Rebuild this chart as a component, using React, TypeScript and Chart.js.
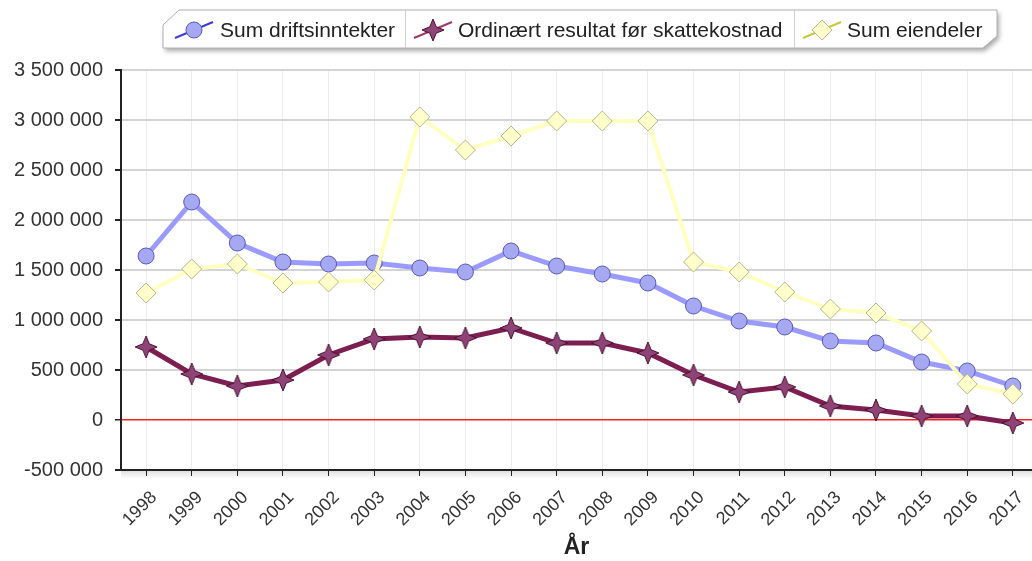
import React, { useEffect, useRef } from 'react';
import { Chart, registerables } from 'chart.js';

Chart.register(...registerables);

const years = [1998, 1999, 2000, 2001, 2002, 2003, 2004, 2005, 2006, 2007, 2008, 2009, 2010, 2011, 2012, 2013, 2014, 2015, 2016, 2017];
const sumDriftsinntekter = [1640000, 2180000, 1770000, 1580000, 1560000, 1570000, 1520000, 1480000, 1690000, 1540000, 1460000, 1370000, 1140000, 990000, 930000, 790000, 770000, 580000, 490000, 340000];
const ordinaertResultat = [730000, 460000, 340000, 400000, 650000, 810000, 830000, 820000, 920000, 770000, 770000, 670000, 450000, 280000, 330000, 140000, 100000, 40000, 40000, -30000];
const sumEiendeler = [1270000, 1510000, 1560000, 1370000, 1380000, 1400000, 3030000, 2700000, 2840000, 2990000, 2990000, 2990000, 1580000, 1480000, 1280000, 1110000, 1070000, 890000, 360000, 260000];
const seriesLabels = ['Sum driftsinntekter', 'Ordinært resultat før skattekostnad', 'Sum eiendeler'];
const xTitle = 'År';
const yMin = -500000;
const yMax = 3500000;
const yStep = 500000;

const FONT = "'Liberation Sans', Arial, sans-serif";

const fmt = (v: number) => (v < 0 ? '-' : '') + Math.abs(v).toString().replace(/\B(?=(\d{3})+(?!\d))/g, ' ');

function starPath(g: CanvasRenderingContext2D, cx: number, cy: number, R: number, r: number) {
  g.beginPath();
  for (let i = 0; i < 8; i++) {
    const a = -Math.PI / 2 + (i * Math.PI) / 4;
    const rad = i % 2 === 0 ? R : r;
    g.lineTo(cx + rad * Math.cos(a), cy + rad * Math.sin(a));
  }
  g.closePath();
}

function makeStar(): HTMLCanvasElement {
  const s = 26;
  const c = document.createElement('canvas');
  c.width = s;
  c.height = s;
  const g = c.getContext('2d')!;
  starPath(g, s / 2, s / 2, 11, 4.5);
  g.fillStyle = '#8f4477';
  g.fill();
  g.strokeStyle = '#4a1030';
  g.lineWidth = 1;
  g.stroke();
  return c;
}

const legendPlugin = {
  id: 'customLegend',
  beforeDraw(chart: any) {
    const { ctx, chartArea } = chart;
    ctx.save();
    const grd = ctx.createLinearGradient(0, chartArea.bottom + 1, 0, chartArea.bottom + 9);
    grd.addColorStop(0, 'rgba(0,0,0,0.12)');
    grd.addColorStop(1, 'rgba(0,0,0,0)');
    ctx.fillStyle = grd;
    ctx.fillRect(chartArea.left, chartArea.bottom + 1, chartArea.right - chartArea.left, 8);
    ctx.restore();
  },
  afterDraw(chart: any) {
    const ctx: CanvasRenderingContext2D = chart.ctx;
    ctx.save();
    const L = 163, T = 10, R = 997, B = 48;
    ctx.beginPath();
    ctx.moveTo(L + 16, T);
    ctx.lineTo(R, T);
    ctx.lineTo(R, B - 12);
    ctx.lineTo(R - 14, B);
    ctx.lineTo(L, B);
    ctx.lineTo(L, T + 15);
    ctx.closePath();
    ctx.shadowColor = 'rgba(0,0,0,0.35)';
    ctx.shadowBlur = 5;
    ctx.shadowOffsetX = 2;
    ctx.shadowOffsetY = 3;
    ctx.fillStyle = '#ffffff';
    ctx.fill();
    ctx.shadowColor = 'transparent';
    ctx.strokeStyle = '#b0b0b0';
    ctx.lineWidth = 1;
    ctx.stroke();

    ctx.strokeStyle = '#d0d0d0';
    [405, 794].forEach((x) => {
      ctx.beginPath();
      ctx.moveTo(x + 0.5, T);
      ctx.lineTo(x + 0.5, B);
      ctx.stroke();
    });

    const cy = 30;
    const markerX = [194, 433, 822];
    const textX = [220, 458, 847];
    const lineColors = ['#3b3bd6', '#9a3a6a', '#c8c83c'];
    markerX.forEach((mx, i) => {
      ctx.strokeStyle = lineColors[i];
      ctx.lineWidth = 2;
      ctx.beginPath();
      ctx.moveTo(mx - 19, cy + 8);
      ctx.lineTo(mx + 19, cy - 8);
      ctx.stroke();
      ctx.lineWidth = 1;
      if (i === 0) {
        ctx.beginPath();
        ctx.arc(mx, cy, 8, 0, Math.PI * 2);
        ctx.fillStyle = '#a6a8f2';
        ctx.fill();
        ctx.strokeStyle = '#5a5ab8';
        ctx.stroke();
      } else if (i === 1) {
        starPath(ctx, mx, cy, 11, 4.5);
        ctx.fillStyle = '#8f4477';
        ctx.fill();
        ctx.strokeStyle = '#4a1030';
        ctx.stroke();
      } else {
        ctx.beginPath();
        ctx.moveTo(mx, cy - 10);
        ctx.lineTo(mx + 10, cy);
        ctx.lineTo(mx, cy + 10);
        ctx.lineTo(mx - 10, cy);
        ctx.closePath();
        ctx.fillStyle = '#ffffcc';
        ctx.fill();
        ctx.strokeStyle = '#b5b58a';
        ctx.stroke();
      }
      ctx.fillStyle = '#222';
      ctx.font = `21px ${FONT}`;
      ctx.textBaseline = 'middle';
      ctx.textAlign = 'left';
      ctx.fillText(seriesLabels[i], textX[i], cy + 1);
    });
    ctx.restore();
  },
};

export default function App() {
  const ref = useRef<HTMLCanvasElement>(null);
  useEffect(() => {
    document.body.style.margin = '0';
    const star = makeStar();
    const toPts = (arr: number[]) => years.map((y, i) => ({ x: y, y: arr[i] }));
    const chart = new Chart(ref.current!, {
      type: 'line',
      data: {
        datasets: [
          {
            label: seriesLabels[0],
            data: toPts(sumDriftsinntekter),
            borderColor: '#9b9bff',
            borderWidth: 5,
            pointStyle: 'circle',
            pointRadius: 8,
            pointBackgroundColor: '#a6a8f2',
            pointBorderColor: '#5a5ab8',
            pointBorderWidth: 1,
            tension: 0,
            order: 2,
          },
          {
            label: seriesLabels[1],
            data: toPts(ordinaertResultat),
            borderColor: '#7d1e50',
            borderWidth: 5,
            pointStyle: star as any,
            pointRadius: 11,
            tension: 0,
            order: 1,
          },
          {
            label: seriesLabels[2],
            data: toPts(sumEiendeler),
            borderColor: '#ffffc0',
            borderWidth: 4,
            pointStyle: 'rectRot',
            pointRadius: 10,
            pointBackgroundColor: '#ffffcc',
            pointBorderColor: '#b5b58a',
            pointBorderWidth: 1,
            tension: 0,
            order: 0,
          },
        ],
      },
      options: {
        responsive: false,
        animation: false,
        clip: false,
        layout: { autoPadding: false, padding: { top: 70, left: 0, right: 0, bottom: 0 } },
        plugins: { legend: { display: false }, tooltip: { enabled: false } },
        scales: {
          x: {
            type: 'linear',
            min: 1997.45,
            max: 2017.42,
            afterFit: (s: any) => { s.height = 91; s.paddingLeft = 0; s.paddingRight = 0; },
            grid: { color: '#ececec', lineWidth: 1, tickColor: '#222', tickLength: 6 },
            border: { color: '#222', width: 2 },
            ticks: {
              stepSize: 1,
              includeBounds: false,
              autoSkip: false,
              minRotation: 45,
              maxRotation: 45,
              padding: 11,
              labelOffset: 8,
              color: '#333',
              font: { family: FONT, size: 18 },
              callback: (v: any) => String(v),
            },
            title: {
              display: true,
              text: xTitle,
              color: '#222',
              font: { family: FONT, size: 23, weight: 'bold' },
              padding: { top: 0, bottom: 0 },
            },
          },
          y: {
            min: yMin,
            max: yMax,
            afterFit: (s: any) => { s.width = 121; },
            grid: {
              color: (c: any) => (c.tick && c.tick.value === 0 ? '#ff2020' : '#d4d4d4'),
              lineWidth: (c: any) => (c.tick && c.tick.value === 0 ? 1.5 : 2),
              tickColor: '#222',
              tickLength: 6,
            },
            border: { color: '#222', width: 2 },
            ticks: {
              stepSize: yStep,
              padding: 12,
              color: '#333',
              font: { family: FONT, size: 20 },
              callback: (v: any) => fmt(Number(v)),
            },
          },
        },
      },
      plugins: [legendPlugin],
    } as any);
    return () => chart.destroy();
  }, []);
  return <canvas ref={ref} width={1032} height={561} style={{ display: 'block' }} />;
}
